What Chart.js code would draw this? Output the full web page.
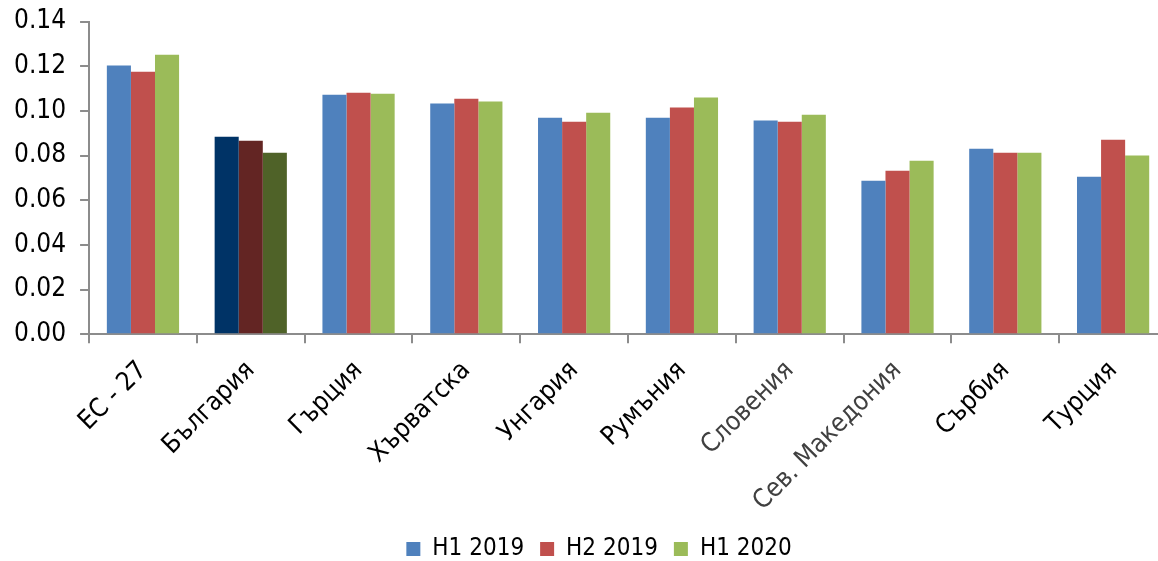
<!DOCTYPE html>
<html>
<head>
<meta charset="utf-8">
<script src="https://cdn.jsdelivr.net/npm/chart.js@4/dist/chart.umd.min.js"></script>
<style>
  html, body { margin: 0; padding: 0; background: #fff; overflow: hidden; height: 561px; }
  #wrap { position: relative; width: 1198px; height: 579px; margin-top: -8px; }
</style>
</head>
<body>
<div id="wrap"><canvas id="grafico"></canvas></div>
<script>
const categorias = ['ЕС - 27', 'България', 'Гърция', 'Хърватска', 'Унгария', 'Румъния', 'Словения', 'Сев. Македония', 'Сърбия', 'Турция'];
const serieNomes = ['Н1 2019', 'Н2 2019', 'Н1 2020'];
const h1_2019 = [0.1203, 0.0885, 0.1073, 0.1033, 0.0970, 0.0970, 0.0957, 0.0687, 0.0831, 0.0705];
const h2_2019 = [0.1176, 0.0867, 0.1082, 0.1055, 0.0952, 0.1015, 0.0952, 0.0732, 0.0813, 0.0871];
const h1_2020 = [0.1252, 0.0813, 0.1077, 0.1042, 0.0992, 0.1060, 0.0983, 0.0777, 0.0813, 0.0800];
const yTicks = [0, 0.02, 0.04, 0.06, 0.08, 0.10, 0.12, 0.14];

// cores normais e cores escuras para a Bulgaria (indice 1)
const cores = ['#4f81bd', '#c0504d', '#9bbb59'];
const coresEscuras = ['#003366', '#632523', '#4f6228'];
const destaque = 1;

function coresSerie(i) {
    return categorias.map((c, k) => k === destaque ? coresEscuras[i] : cores[i]);
}

const fonte = "'DejaVu Sans Condensed', 'DejaVu Sans', sans-serif";
const eixoCor = '#8c8c8c';

const ctx = document.getElementById('grafico').getContext('2d');
new Chart(ctx, {
    type: 'bar',
    data: {
        labels: categorias,
        datasets: [h1_2019, h2_2019, h1_2020].map((valores, i) => ({
            label: serieNomes[i],
            data: valores,
            backgroundColor: coresSerie(i),
            borderWidth: 0,
            barPercentage: 1,
            categoryPercentage: 0.67,
            yAxisID: 'y'
        }))
    },
    options: {
        responsive: true,
        maintainAspectRatio: false,
        animation: false,
        layout: { padding: { left: 0, right: 0, top: 1, bottom: 0 } },
        plugins: {
            tooltip: { enabled: false },
            legend: {
                position: 'bottom',
                labels: {
                    boxWidth: 14,
                    boxHeight: 14,
                    padding: 16,
                    color: '#000',
                    font: { family: fonte, size: 24 },
                    generateLabels: chart => chart.data.datasets.map((ds, i) => ({
                        text: ds.label,
                        fillStyle: cores[i],
                        strokeStyle: cores[i],
                        lineWidth: 0,
                        datasetIndex: i
                    }))
                }
            }
        },
        scales: {
            x: {
                afterFit: s => { s.height -= 8; },
                grid: {
                    display: true,
                    drawOnChartArea: false,
                    drawTicks: true,
                    tickLength: 9,
                    color: eixoCor,
                    lineWidth: 2
                },
                border: { display: true, color: eixoCor, width: 2 },
                ticks: {
                    minRotation: 45,
                    maxRotation: 45,
                    autoSkip: false,
                    padding: 12,
                    color: c => (c.index === 6 || c.index === 7) ? '#404040' : '#000',
                    font: { family: fonte, size: 26 }
                }
            },
            y: {
                min: 0,
                max: 0.14,
                afterBuildTicks: axis => { axis.ticks = yTicks.map(v => ({ value: v })); },
                grid: {
                    display: true,
                    drawOnChartArea: false,
                    drawTicks: true,
                    tickLength: 9,
                    color: eixoCor,
                    lineWidth: 2
                },
                border: { display: true, color: eixoCor, width: 2 },
                ticks: {
                    padding: 14,
                    color: '#000',
                    font: { family: fonte, size: 26 },
                    callback: v => Number(v).toFixed(2)
                }
            },
            // eixo vazio a direita: o grafico continua alem da borda da imagem
            folga: {
                position: 'right',
                display: true,
                grid: { display: false },
                border: { display: false },
                ticks: { display: false },
                afterFit: s => { s.width = 31; }
            }
        }
    }
});
</script>
</body>
</html>
